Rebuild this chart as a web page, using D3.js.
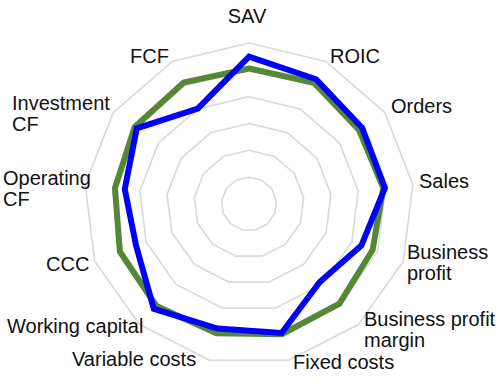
<!DOCTYPE html>
<html>
<head>
<meta charset="utf-8">
<script src="https://cdn.jsdelivr.net/npm/d3@7"></script>
<style>
html,body{margin:0;padding:0;background:#fff;}
svg{display:block;}
</style>
</head>
<body>
<svg id="chart" width="504" height="384"></svg>
<script>
// ---- data ----
const categories = ["SAV","ROIC","Orders","Sales","Business profit","Business profit margin","Fixed costs","Variable costs","Working capital","CCC","Operating CF","Investment CF","FCF"];
const greenSeries = [5.05,5.1,4.86,4.92,4.81,4.96,5.0,4.96,5.08,5.02,4.91,5.05,5.11];
const blueSeries  = [5.49,5.25,5.0,4.98,4.37,3.88,4.95,4.78,5.22,4.39,4.55,4.96,4.01];
const ringLevels = [1,2,3,4,5,6];

// ---- label layout (lines, x, first baseline, anchor) ----
const labelLayout = [
  {lines:["SAV"], x:247, y:23, anchor:"middle"},
  {lines:["ROIC"], x:330, y:63, anchor:"start"},
  {lines:["Orders"], x:391, y:113, anchor:"start"},
  {lines:["Sales"], x:419, y:188, anchor:"start"},
  {lines:["Business","profit"], x:407, y:258.5, anchor:"start"},
  {lines:["Business profit","margin"], x:364, y:326, anchor:"start"},
  {lines:["Fixed costs"], x:293, y:369, anchor:"start"},
  {lines:["Variable costs"], x:72, y:365.5, anchor:"start"},
  {lines:["Working capital"], x:7, y:333, anchor:"start"},
  {lines:["CCC"], x:46, y:270.5, anchor:"start"},
  {lines:["Operating","CF"], x:3, y:184.5, anchor:"start"},
  {lines:["Investment","CF"], x:12, y:109.5, anchor:"start"},
  {lines:["FCF"], x:130, y:63, anchor:"start"}
];

const svg = d3.select("#chart");
const cx = 249, cy = 204;
const rx = d3.scaleLinear().domain([0,6]).range([0,165]);
const ry = d3.scaleLinear().domain([0,6]).range([0,161]);
const angle = d3.scalePoint().domain(d3.range(categories.length + 1)).range([0, 2*Math.PI]);

const px = (i,v) => cx + Math.sin(angle(i)) * rx(v);
const py = (i,v) => cy - Math.cos(angle(i)) * ry(v);

const closedLine = d3.line().x(d => d[0]).y(d => d[1]).curve(d3.curveLinearClosed);

// grid rings
svg.append("g").selectAll("path").data(ringLevels).join("path")
  .attr("d", lv => closedLine(categories.map((c,i) => [px(i,lv), py(i,lv)])))
  .attr("fill","none").attr("stroke","#d9d9d9").attr("stroke-width",1.6);

// series
const series = [
  {values: greenSeries, color:"#558737", width:6},
  {values: blueSeries, color:"#0000ff", width:6}
];
svg.append("g").selectAll("path").data(series).join("path")
  .attr("d", s => closedLine(s.values.map((v,i) => [px(i,v), py(i,v)])))
  .attr("fill","none").attr("stroke", s => s.color).attr("stroke-width", s => s.width)
  .attr("stroke-linejoin","miter");

// labels
const lg = svg.append("g").attr("font-family","Arial, 'Liberation Sans', sans-serif")
  .attr("font-size","20px").attr("fill","#111");
labelLayout.forEach((l,i) => {
  const t = lg.append("text").attr("x", l.x).attr("y", l.y).attr("text-anchor", l.anchor);
  l.lines.forEach((ln,k) => {
    t.append("tspan").attr("x", l.x).attr("dy", k === 0 ? 0 : 21).text(ln);
  });
});
</script>
</body>
</html>
